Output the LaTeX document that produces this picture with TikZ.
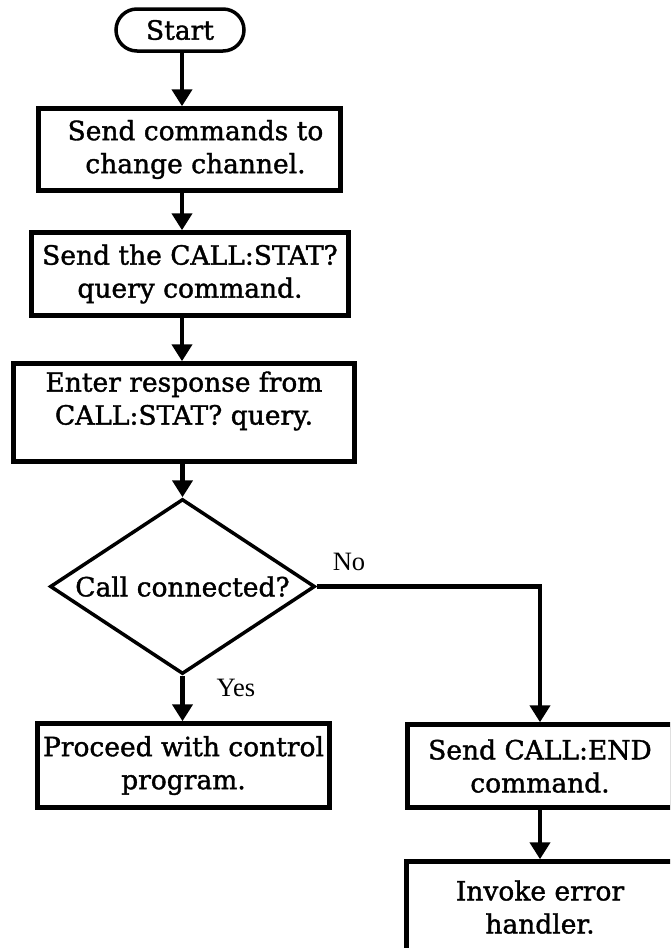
\documentclass[tikz,border=0pt]{standalone}
\usepackage{fontspec}
\setmainfont[FakeBold=1.4]{DejaVu Serif}
\newfontfamily\labfont{Liberation Serif}
\usetikzlibrary{shapes.geometric,arrows.meta}

\begin{document}
\begin{tikzpicture}[x=1pt,y=-1pt,
        box/.style={draw,line width=4.5pt,align=center,inner sep=0,font=\fontsize{26.5}{33}\selectfont},
        arr/.style={line width=4.5pt,-{Triangle[length=17pt,width=20pt]}},
        lab/.style={font=\labfont\fontsize{26.5}{30}\selectfont}]
        \useasboundingbox (0,0) rectangle (670,948);
        \clip (0,0) rectangle (670,948);
        \coordinate (axis) at (182,0);
        \node[box,rounded corners=21pt,line width=3.5pt,minimum width=128pt,minimum height=42pt] (start) at (180,30) {Start};
        \node[box,minimum width=302pt,minimum height=82pt] (cmd) at (189.5,149.5) {\hspace*{12pt}Send commands to\\\hspace*{12pt}change channel.};
        \node[box,minimum width=317pt,minimum height=83pt] (query) at (190,274) {Send the CALL:STAT?\\query command.};
        \node[box,minimum width=341pt,minimum height=98pt] (resp) at (184,412.5) {Enter response from\\CALL:STAT? query.\\[-4pt]\mbox{}};
        \node[box,diamond,line width=3.5pt,aspect=1.5,minimum width=265pt,minimum height=175pt] (conn) at (182.5,586.5) {Call connected?};
        \node[box,minimum width=292pt,minimum height=84pt] (proceed) at (183.5,765.5) {Proceed with control\\program.};
        \node[box,minimum width=265pt,minimum height=83pt] (endcall) at (540,766) {Send CALL:END\\command.};
        \node[box,minimum width=267pt,minimum height=91pt] (error) at (540,907) {Invoke error\\handler.};
        \node[lab] (no) at (349,562) {No};
        \node[lab] (yes) at (236,688) {Yes};
        \draw[arr] (start.south -| axis) -- (cmd.north -| axis);
        \draw[arr] (cmd.south -| axis) -- (query.north -| axis);
        \draw[arr] (query.south -| axis) -- (resp.north -| axis);
        \draw[arr] (resp.south -| conn.north) -- (conn.north);
        \draw[arr] (conn.south) -- (proceed.north -| conn.south);
        \draw[arr] (conn.east) -| (endcall.north);
        \draw[arr] (endcall.south) -- (error.north);
\end{tikzpicture}
\end{document}
